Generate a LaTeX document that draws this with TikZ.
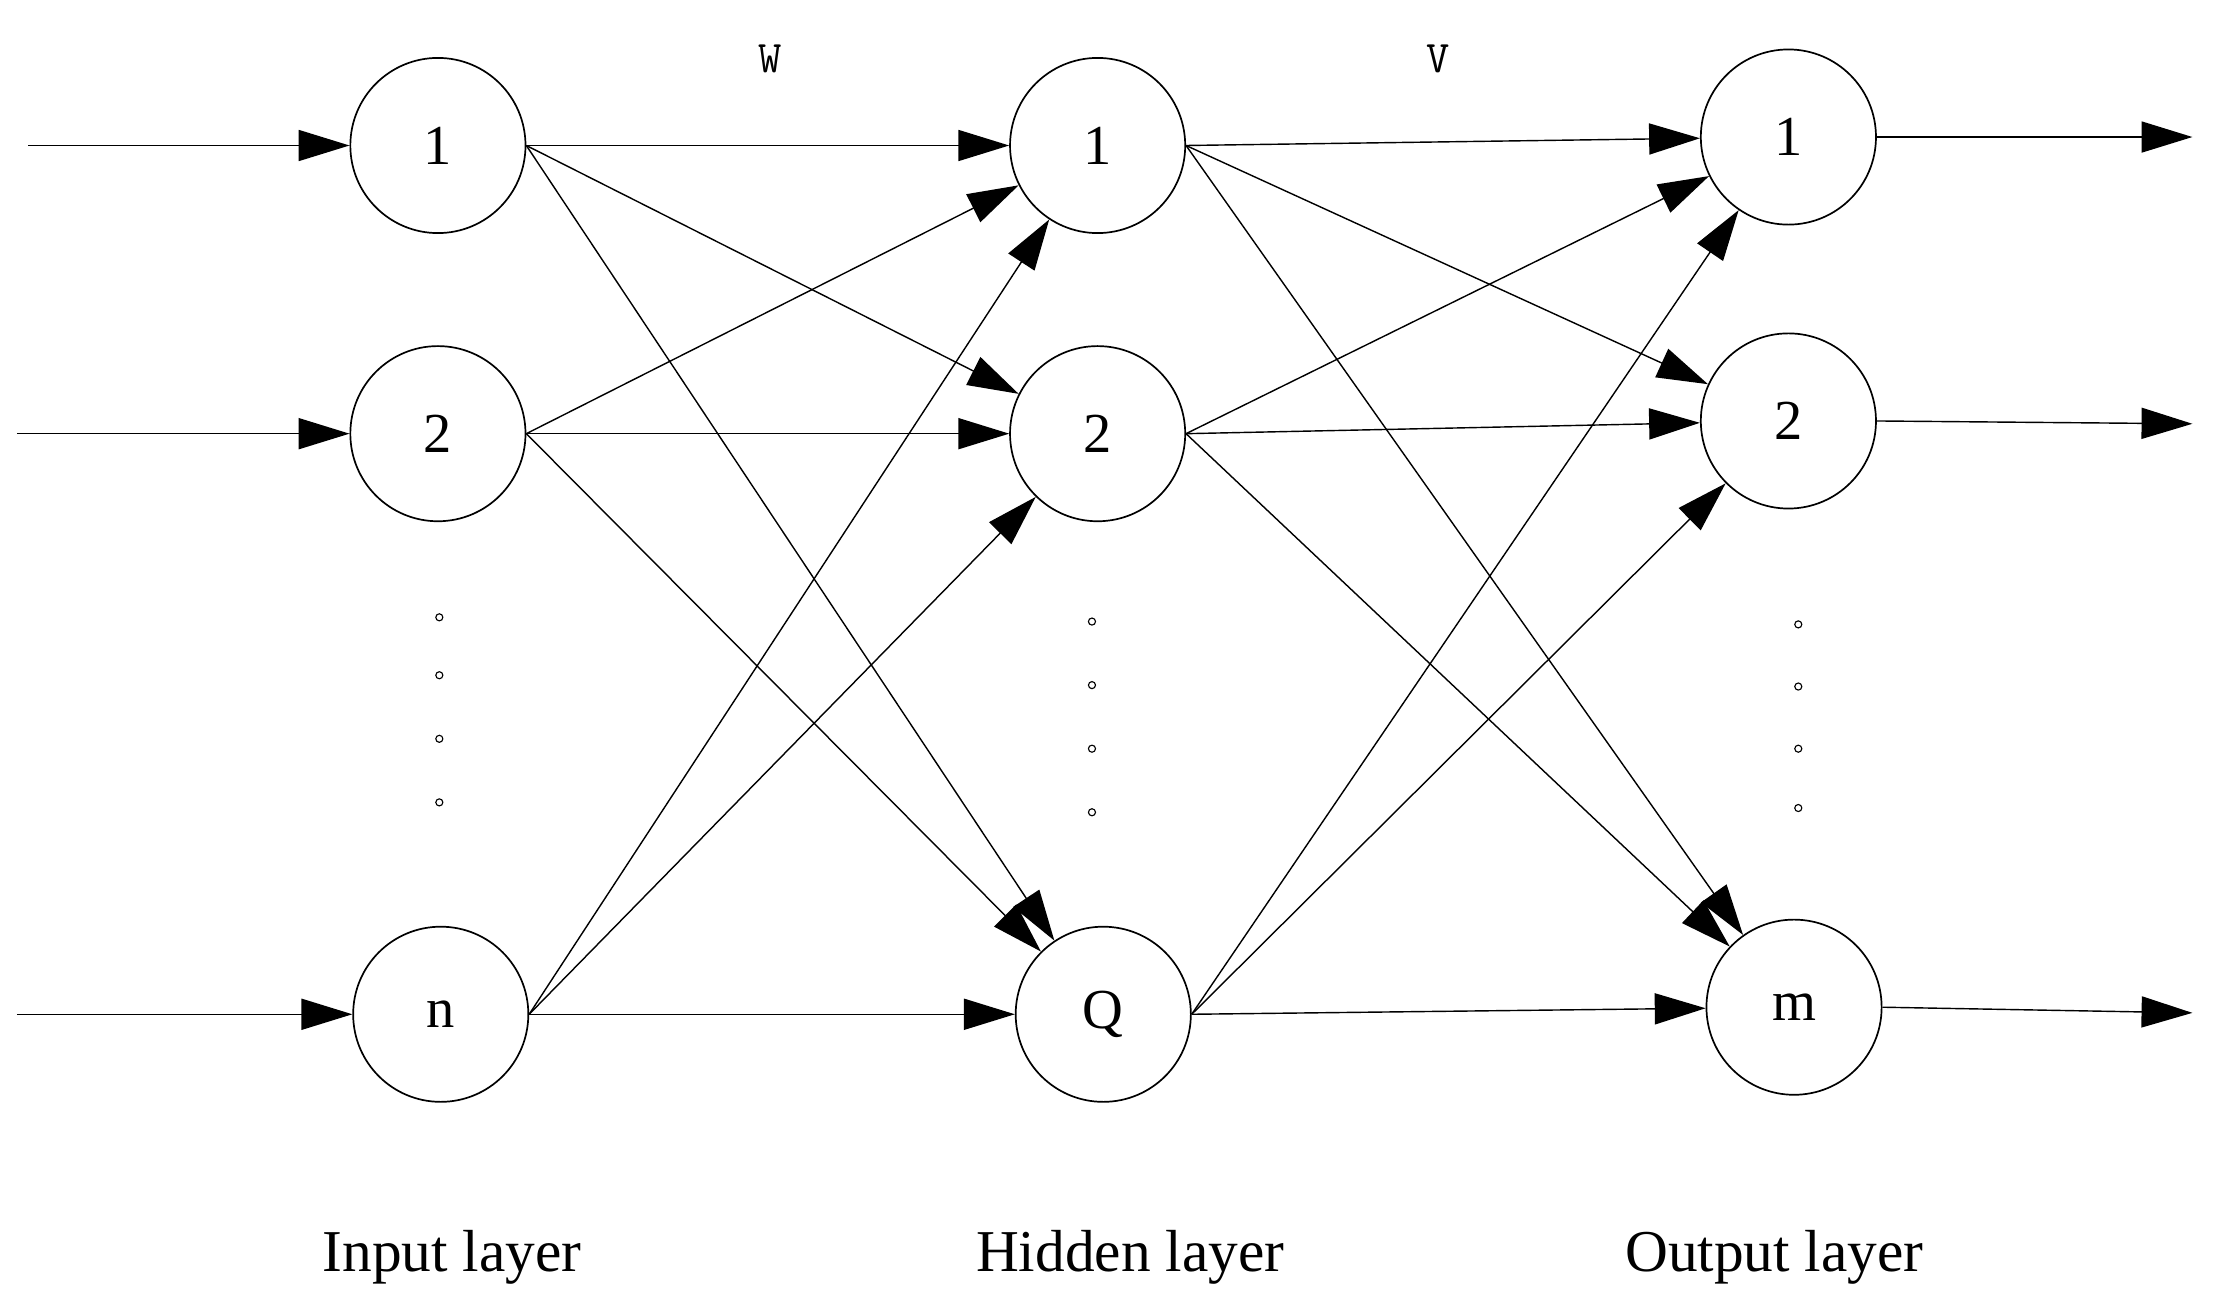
\documentclass[tikz,border=0pt]{standalone}
\usepackage{fontspec}
\setmainfont{Liberation Serif}
\usetikzlibrary{arrows.meta}
\begin{document}
\begin{tikzpicture}[x=1pt,y=-1pt,
  neuron/.style={circle,draw,line width=1.2pt,minimum size=124pt,inner sep=0pt,font=\fontsize{40}{44}\selectfont},
  conn/.style={line width=1pt,-{Triangle[length=36pt,width=22pt]}},
  dot/.style={circle,draw,line width=0.8pt,inner sep=0pt,minimum size=5pt},
  lab/.style={font=\fontsize{42}{46}\selectfont}]
\useasboundingbox (0,0) rectangle (1568,928);
\node[neuron] (i1) at (310,103) {1};
\node[neuron] (i2) at (310,307) {2};
\node[neuron] (in) at (312,718) {n};
\node[neuron] (h1) at (777,103) {1};
\node[neuron] (h2) at (777,307) {2};
\node[neuron] (hq) at (781,718) {Q};
\node[neuron] (o1) at (1266,97) {1};
\node[neuron] (o2) at (1266,298) {2};
\node[neuron] (om) at (1270,713) {m};
\coordinate (a1) at (20,103); \coordinate (a2) at (12,307); \coordinate (an) at (12,718);
\coordinate (b1) at (1552,97); \coordinate (b2) at (1552,300); \coordinate (bm) at (1552,717);
\draw[conn] (a1) -- (i1); \draw[conn] (a2) -- (i2); \draw[conn] (an) -- (in);
\draw[conn] (o1.east) -- (b1); \draw[conn] (o2.east) -- (b2); \draw[conn] (om.east) -- (bm);
\foreach \s in {i1,i2,in}{\foreach \t in {h1,h2,hq}{\draw[conn] (\s.east) -- (\t);}}
\foreach \s in {h1,h2,hq}{\foreach \t in {o1,o2,om}{\draw[conn] (\s.east) -- (\t);}}
\foreach \y [count=\k] in {437,478,523,568}{\node[dot] (d1\k) at (311,\y) {};}
\foreach \y [count=\k] in {440,485,530,575}{\node[dot] (d2\k) at (773,\y) {};}
\foreach \y [count=\k] in {442,486,530,572}{\node[dot] (d3\k) at (1273,\y) {};}
\node[font=\fontsize{32}{34}\ttfamily] (w) at (545,42) {W};
\node[font=\fontsize{32}{34}\ttfamily] (v) at (1018,42) {V};
\node[lab] (l1) at (320,890) {Input layer};
\node[lab] (l2) at (800,890) {Hidden layer};
\node[lab] (l3) at (1256,890) {Output layer};
\end{tikzpicture}
\end{document}
